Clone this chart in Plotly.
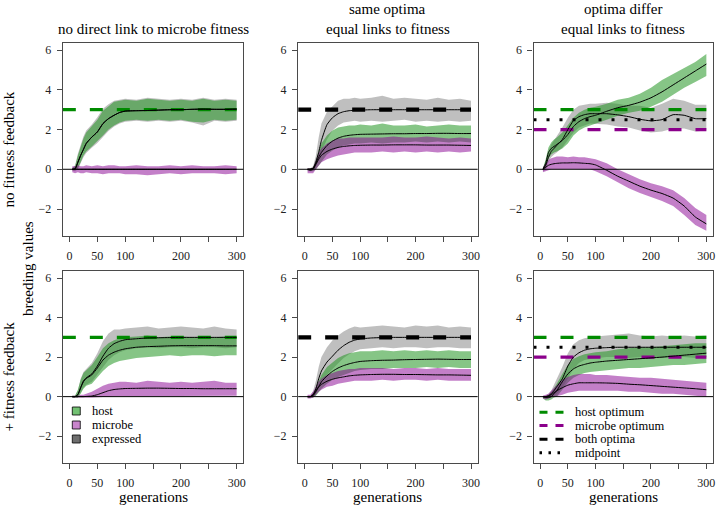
import plotly.graph_objects as go

W, H = 717, 506
FONT = "Liberation Serif, Times New Roman, serif"

# ---------------- data ----------------
GENS = [5, 10, 15, 20, 25, 30, 40, 50, 60, 70, 80, 90, 100, 120, 140, 160, 180, 200, 220, 240, 260, 280, 300]

X_TICKS = [0, 50, 100, 150, 200, 250, 300]
X_TICK_LABELS = ["0", "50", "100", "", "200", "", "300"]
Y_TICKS = [-2, 0, 2, 4, 6]
Y_TICK_LABELS = ["\u22122", "0", "2", "4", "6"]

COL_TITLES = [["no direct link to microbe fitness"],
              ["same optima", "equal links to fitness"],
              ["optima differ", "equal links to fitness"]]
ROW_LABELS = ["no fitness feedback", "+ fitness feedback"]
Y_LABEL = "breeding values"
X_LABEL = "generations"

HOST_OPT = 3.0
MICROBE_OPT = 2.0
BOTH_OPT = 3.0
MIDPOINT = 2.5

# panel 1: no direct link, no feedback
p1_host_mean = [0, 0.02, 0.35, 0.7, 1.0, 1.3, 1.62, 1.88, 2.3, 2.55, 2.72, 2.86, 2.93, 2.95, 2.96, 2.98, 3.0, 3.0, 3.02, 3.03, 3.02, 3.02, 3.03]
p1_host_hi = [0.05, 0.15, 0.7, 1.15, 1.55, 1.85, 2.15, 2.5, 2.95, 3.2, 3.4, 3.45, 3.5, 3.45, 3.55, 3.5, 3.45, 3.5, 3.45, 3.55, 3.45, 3.5, 3.45]
p1_host_lo = [-0.05, -0.05, 0.05, 0.35, 0.7, 0.9, 1.15, 1.4, 1.7, 2.0, 2.2, 2.35, 2.45, 2.5, 2.45, 2.5, 2.45, 2.5, 2.4, 2.35, 2.5, 2.45, 2.5]
p1_microbe_mean = [0] * 23
p1_microbe_hi = [0.15, 0.15, 0.2, 0.15, 0.15, 0.2, 0.15, 0.2, 0.15, 0.2, 0.2, 0.15, 0.15, 0.2, 0.15, 0.15, 0.2, 0.15, 0.2, 0.15, 0.15, 0.2, 0.15]
p1_microbe_lo = [-0.15, -0.2, -0.15, -0.2, -0.2, -0.15, -0.2, -0.2, -0.25, -0.2, -0.2, -0.2, -0.25, -0.25, -0.3, -0.25, -0.2, -0.25, -0.2, -0.2, -0.2, -0.25, -0.2]
p1_expr_mean = [0, 0.02, 0.35, 0.7, 1.0, 1.3, 1.62, 1.88, 2.3, 2.55, 2.72, 2.86, 2.93, 2.95, 2.96, 2.98, 3.0, 3.0, 3.02, 3.03, 3.02, 3.02, 3.03]
p1_expr_hi = [0.08, 0.2, 0.78, 1.25, 1.65, 1.95, 2.25, 2.62, 3.05, 3.28, 3.45, 3.5, 3.55, 3.5, 3.6, 3.55, 3.5, 3.55, 3.5, 3.6, 3.5, 3.55, 3.5]
p1_expr_lo = [-0.08, -0.1, 0.0, 0.28, 0.6, 0.82, 1.08, 1.32, 1.62, 1.93, 2.15, 2.3, 2.4, 2.45, 2.4, 2.45, 2.4, 2.45, 2.35, 2.2, 2.45, 2.4, 2.45]

# panel 2: same optima, no feedback
p2_host_mean = [0, 0, 0.05, 0.3, 0.6, 0.85, 1.2, 1.42, 1.57, 1.66, 1.71, 1.74, 1.76, 1.77, 1.78, 1.79, 1.79, 1.8, 1.8, 1.81, 1.81, 1.8, 1.8]
p2_host_hi = [0.02, 0.02, 0.1, 0.5, 0.95, 1.3, 1.7, 1.95, 2.1, 2.15, 2.2, 2.2, 2.25, 2.2, 2.3, 2.2, 2.2, 2.25, 2.15, 2.2, 2.25, 2.2, 2.2]
p2_host_lo = [-0.05, -0.1, -0.1, 0.0, 0.2, 0.4, 0.75, 0.95, 1.1, 1.2, 1.25, 1.3, 1.3, 1.35, 1.3, 1.35, 1.35, 1.4, 1.35, 1.4, 1.35, 1.4, 1.35]
p2_microbe_mean = [0, -0.05, 0.0, 0.25, 0.5, 0.7, 0.9, 1.02, 1.1, 1.15, 1.18, 1.2, 1.21, 1.22, 1.22, 1.23, 1.23, 1.23, 1.22, 1.22, 1.22, 1.21, 1.2]
p2_microbe_hi = [0.05, 0.02, 0.1, 0.5, 0.85, 1.05, 1.3, 1.45, 1.55, 1.55, 1.6, 1.6, 1.6, 1.62, 1.6, 1.65, 1.6, 1.6, 1.65, 1.6, 1.55, 1.6, 1.55]
p2_microbe_lo = [-0.2, -0.2, -0.2, 0.0, 0.2, 0.35, 0.5, 0.6, 0.7, 0.75, 0.8, 0.85, 0.85, 0.85, 0.9, 0.85, 0.9, 0.85, 0.9, 0.85, 0.9, 0.85, 0.9]
p2_expr_mean = [0, 0.02, 0.05, 0.35, 0.85, 1.45, 2.25, 2.6, 2.8, 2.9, 2.95, 2.97, 2.98, 3.0, 3.0, 3.0, 3.0, 3.0, 3.0, 3.0, 3.0, 3.0, 3.0]
p2_expr_hi = [0.05, 0.05, 0.15, 0.7, 1.6, 2.3, 2.9, 3.2, 3.45, 3.55, 3.55, 3.6, 3.55, 3.6, 3.7, 3.55, 3.6, 3.55, 3.5, 3.6, 3.5, 3.55, 3.45]
p2_expr_lo = [-0.1, -0.1, -0.05, 0.1, 0.5, 0.9, 1.5, 1.95, 2.2, 2.35, 2.4, 2.45, 2.4, 2.45, 2.4, 2.45, 2.5, 2.4, 2.45, 2.4, 2.45, 2.4, 2.45]

# panel 3: optima differ, no feedback
p3_host_mean = [0, 0.3, 0.85, 1.05, 1.15, 1.25, 1.45, 1.75, 2.15, 2.4, 2.55, 2.65, 2.72, 2.92, 3.1, 3.22, 3.38, 3.6, 3.9, 4.25, 4.6, 4.95, 5.3]
p3_host_hi = [0.05, 0.5, 1.1, 1.35, 1.5, 1.6, 1.85, 2.2, 2.6, 2.85, 3.0, 3.1, 3.15, 3.3, 3.5, 3.6, 3.8, 4.1, 4.5, 4.8, 5.1, 5.4, 5.8]
p3_host_lo = [-0.05, 0.05, 0.55, 0.75, 0.85, 0.9, 1.05, 1.3, 1.7, 1.95, 2.1, 2.2, 2.3, 2.5, 2.7, 2.85, 2.95, 3.15, 3.4, 3.75, 4.1, 4.4, 4.7]
p3_microbe_mean = [0, 0.1, 0.2, 0.25, 0.28, 0.3, 0.32, 0.32, 0.33, 0.32, 0.3, 0.28, 0.22, -0.05, -0.35, -0.6, -0.85, -1.05, -1.22, -1.45, -1.85, -2.4, -2.75]
p3_microbe_hi = [0.1, 0.3, 0.45, 0.55, 0.6, 0.65, 0.65, 0.6, 0.65, 0.6, 0.6, 0.55, 0.5, 0.3, 0.0, -0.25, -0.5, -0.7, -0.85, -1.05, -1.45, -1.95, -2.3]
p3_microbe_lo = [-0.15, -0.1, -0.05, 0.0, 0.0, 0.0, 0.0, 0.02, 0.02, 0.02, 0.0, 0.0, -0.1, -0.35, -0.65, -0.95, -1.2, -1.4, -1.6, -1.85, -2.3, -2.8, -3.1]
p3_expr_mean = [0, 0.2, 0.6, 0.9, 1.05, 1.2, 1.5, 2.0, 2.45, 2.65, 2.75, 2.8, 2.8, 2.8, 2.74, 2.65, 2.52, 2.44, 2.5, 2.75, 2.72, 2.55, 2.55]
p3_expr_hi = [0.05, 0.4, 0.9, 1.25, 1.45, 1.65, 2.1, 2.6, 3.0, 3.2, 3.25, 3.3, 3.3, 3.35, 3.3, 3.2, 3.2, 3.1, 3.3, 3.55, 3.45, 3.25, 3.25]
p3_expr_lo = [-0.1, -0.05, 0.35, 0.6, 0.75, 0.85, 1.1, 1.5, 1.85, 2.1, 2.2, 2.3, 2.3, 2.25, 2.15, 2.1, 1.95, 1.85, 1.9, 2.05, 2.05, 1.9, 1.95]

# panel 4: no direct link, + feedback
p4_host_mean = [0, 0, 0.1, 0.45, 0.75, 0.92, 1.1, 1.45, 1.85, 2.1, 2.25, 2.35, 2.42, 2.5, 2.53, 2.55, 2.57, 2.58, 2.58, 2.58, 2.58, 2.57, 2.57]
p4_host_hi = [0.05, 0.05, 0.35, 0.85, 1.2, 1.35, 1.6, 2.0, 2.45, 2.7, 2.85, 2.95, 3.0, 3.05, 3.1, 3.0, 3.05, 3.05, 3.0, 3.05, 3.0, 3.05, 3.0]
p4_host_lo = [-0.05, -0.05, -0.05, 0.15, 0.4, 0.55, 0.65, 0.95, 1.3, 1.55, 1.7, 1.8, 1.85, 1.95, 2.0, 2.05, 2.1, 2.05, 2.1, 2.1, 2.05, 2.1, 2.1]
p4_microbe_mean = [0, 0, 0, 0, 0, 0.01, 0.03, 0.1, 0.2, 0.3, 0.36, 0.39, 0.41, 0.42, 0.43, 0.43, 0.42, 0.41, 0.41, 0.4, 0.4, 0.4, 0.4]
p4_microbe_hi = [0.05, 0.05, 0.05, 0.1, 0.1, 0.15, 0.25, 0.4, 0.55, 0.65, 0.7, 0.75, 0.75, 0.7, 0.8, 0.75, 0.7, 0.75, 0.7, 0.75, 0.8, 0.7, 0.7]
p4_microbe_lo = [-0.05, -0.05, -0.05, -0.05, -0.05, -0.05, -0.05, -0.05, -0.02, 0.0, 0.02, 0.03, 0.05, 0.05, 0.05, 0.05, 0.03, 0.05, 0.05, 0.05, 0.03, 0.05, 0.05]
p4_expr_mean = [0, 0, 0.1, 0.45, 0.8, 0.95, 1.15, 1.55, 2.05, 2.45, 2.68, 2.8, 2.88, 2.93, 2.97, 2.98, 2.99, 3.0, 3.0, 3.0, 3.0, 3.0, 3.0]
p4_expr_hi = [0.05, 0.05, 0.3, 0.9, 1.25, 1.4, 1.7, 2.2, 2.8, 3.2, 3.4, 3.4, 3.45, 3.5, 3.55, 3.45, 3.5, 3.55, 3.5, 3.45, 3.55, 3.45, 3.4]
p4_expr_lo = [-0.05, -0.05, -0.05, 0.2, 0.45, 0.6, 0.75, 1.1, 1.5, 1.85, 2.1, 2.25, 2.35, 2.45, 2.5, 2.45, 2.5, 2.5, 2.45, 2.5, 2.5, 2.45, 2.5]

# panel 5: same optima, + feedback
p5_host_mean = [0, 0, 0.05, 0.25, 0.5, 0.75, 1.05, 1.28, 1.45, 1.57, 1.66, 1.73, 1.78, 1.82, 1.84, 1.85, 1.87, 1.88, 1.89, 1.9, 1.89, 1.88, 1.88]
p5_host_hi = [0.02, 0.02, 0.15, 0.5, 0.85, 1.1, 1.5, 1.75, 1.95, 2.1, 2.2, 2.25, 2.3, 2.3, 2.35, 2.3, 2.35, 2.3, 2.35, 2.3, 2.35, 2.3, 2.3]
p5_host_lo = [-0.05, -0.05, -0.05, 0.05, 0.2, 0.4, 0.65, 0.85, 1.0, 1.1, 1.2, 1.3, 1.35, 1.4, 1.4, 1.45, 1.45, 1.45, 1.5, 1.45, 1.5, 1.45, 1.45]
p5_microbe_mean = [0, 0, 0.1, 0.3, 0.5, 0.62, 0.78, 0.88, 0.95, 1.0, 1.05, 1.08, 1.1, 1.12, 1.13, 1.13, 1.12, 1.12, 1.11, 1.1, 1.1, 1.09, 1.08]
p5_microbe_hi = [0.1, 0.1, 0.25, 0.5, 0.75, 0.9, 1.1, 1.2, 1.3, 1.35, 1.4, 1.4, 1.45, 1.45, 1.45, 1.4, 1.45, 1.45, 1.4, 1.45, 1.4, 1.4, 1.4]
p5_microbe_lo = [-0.1, -0.1, -0.05, 0.1, 0.25, 0.35, 0.5, 0.55, 0.65, 0.7, 0.75, 0.8, 0.8, 0.8, 0.85, 0.8, 0.85, 0.85, 0.8, 0.85, 0.8, 0.8, 0.8]
p5_expr_mean = [0, 0, 0.1, 0.4, 0.9, 1.3, 1.75, 2.05, 2.35, 2.58, 2.75, 2.86, 2.92, 2.97, 2.99, 3.0, 3.0, 3.0, 3.0, 3.0, 3.0, 3.0, 3.0]
p5_expr_hi = [0.05, 0.05, 0.3, 0.8, 1.5, 2.0, 2.5, 2.85, 3.1, 3.3, 3.45, 3.55, 3.5, 3.55, 3.6, 3.55, 3.5, 3.6, 3.55, 3.6, 3.5, 3.55, 3.5]
p5_expr_lo = [-0.05, -0.05, -0.05, 0.1, 0.4, 0.7, 1.1, 1.4, 1.7, 1.95, 2.15, 2.3, 2.4, 2.45, 2.5, 2.45, 2.5, 2.5, 2.45, 2.5, 2.5, 2.45, 2.45]

# panel 6: optima differ, + feedback
p6_host_mean = [0, -0.05, -0.05, 0.0, 0.15, 0.3, 0.75, 1.15, 1.4, 1.55, 1.63, 1.7, 1.74, 1.8, 1.84, 1.88, 1.92, 1.96, 2.0, 2.05, 2.1, 2.15, 2.2]
p6_host_hi = [0.02, 0.02, 0.05, 0.2, 0.4, 0.65, 1.15, 1.6, 1.9, 2.05, 2.15, 2.2, 2.25, 2.3, 2.4, 2.45, 2.5, 2.5, 2.55, 2.6, 2.65, 2.7, 2.7]
p6_host_lo = [-0.1, -0.2, -0.2, -0.15, -0.05, 0.0, 0.35, 0.7, 0.95, 1.1, 1.2, 1.25, 1.3, 1.35, 1.4, 1.45, 1.45, 1.5, 1.55, 1.6, 1.6, 1.65, 1.7]
p6_microbe_mean = [0, 0.0, 0.02, 0.1, 0.2, 0.3, 0.45, 0.58, 0.65, 0.7, 0.7, 0.7, 0.7, 0.69, 0.67, 0.63, 0.6, 0.56, 0.52, 0.48, 0.44, 0.4, 0.35]
p6_microbe_hi = [0.05, 0.1, 0.15, 0.3, 0.45, 0.6, 0.85, 1.0, 1.1, 1.15, 1.15, 1.15, 1.1, 1.1, 1.05, 1.0, 0.95, 0.95, 0.9, 0.85, 0.8, 0.75, 0.7]
p6_microbe_lo = [-0.1, -0.15, -0.1, -0.05, 0.0, 0.05, 0.1, 0.2, 0.25, 0.3, 0.3, 0.3, 0.3, 0.3, 0.3, 0.25, 0.25, 0.2, 0.15, 0.15, 0.1, 0.05, 0.0]
p6_expr_mean = [0, 0, 0.05, 0.15, 0.3, 0.5, 0.9, 1.55, 2.0, 2.22, 2.35, 2.42, 2.45, 2.48, 2.5, 2.5, 2.5, 2.5, 2.5, 2.5, 2.5, 2.5, 2.5]
p6_expr_hi = [0.05, 0.05, 0.15, 0.3, 0.6, 0.9, 1.5, 2.2, 2.65, 2.85, 2.95, 3.0, 3.05, 3.1, 3.15, 3.2, 3.1, 3.05, 3.1, 3.05, 3.1, 3.05, 3.1]
p6_expr_lo = [-0.05, -0.05, -0.05, 0.0, 0.05, 0.15, 0.45, 0.9, 1.4, 1.7, 1.85, 1.9, 1.95, 2.0, 2.0, 1.95, 2.0, 2.0, 1.95, 2.0, 2.0, 1.95, 2.0]

PANELS = [
    dict(expr=(p1_expr_mean, p1_expr_lo, p1_expr_hi), host=(p1_host_mean, p1_host_lo, p1_host_hi),
         microbe=(p1_microbe_mean, p1_microbe_lo, p1_microbe_hi), refs=["host"]),
    dict(expr=(p2_expr_mean, p2_expr_lo, p2_expr_hi), host=(p2_host_mean, p2_host_lo, p2_host_hi),
         microbe=(p2_microbe_mean, p2_microbe_lo, p2_microbe_hi), refs=["both"]),
    dict(expr=(p3_expr_mean, p3_expr_lo, p3_expr_hi), host=(p3_host_mean, p3_host_lo, p3_host_hi),
         microbe=(p3_microbe_mean, p3_microbe_lo, p3_microbe_hi), refs=["host", "microbe", "mid"]),
    dict(expr=(p4_expr_mean, p4_expr_lo, p4_expr_hi), host=(p4_host_mean, p4_host_lo, p4_host_hi),
         microbe=(p4_microbe_mean, p4_microbe_lo, p4_microbe_hi), refs=["host"]),
    dict(expr=(p5_expr_mean, p5_expr_lo, p5_expr_hi), host=(p5_host_mean, p5_host_lo, p5_host_hi),
         microbe=(p5_microbe_mean, p5_microbe_lo, p5_microbe_hi), refs=["both"]),
    dict(expr=(p6_expr_mean, p6_expr_lo, p6_expr_hi), host=(p6_host_mean, p6_host_lo, p6_host_hi),
         microbe=(p6_microbe_mean, p6_microbe_lo, p6_microbe_hi), refs=["host", "microbe", "mid"]),
]

# ---------------- styles ----------------
FILL = dict(expr="rgba(0,0,0,0.25)", host="rgba(34,150,34,0.55)", microbe="rgba(135,0,145,0.5)")
LEG_FILL = dict(host="#72c172", microbe="#c985cc", expr="#6e6e6e")
REF_STYLE = dict(
    host=(HOST_OPT, dict(color="#008b00", width=3.2, dash="13px,14px")),
    microbe=(MICROBE_OPT, dict(color="#8b008b", width=3.2, dash="13px,14px")),
    both=(BOTH_OPT, dict(color="black", width=4.2, dash="13px,14px")),
    mid=(MIDPOINT, dict(color="black", width=3, dash="3px,10px")),
)
AXC = "#4a4a4a"
X_RANGE = [-12, 312]
Y_RANGE = [-3.36, 6.36]
COL_PX = [(63, 244), (299, 479), (535, 715)]
ROW_PX = [(43, 236), (271, 463)]


def px(x):
    return x / W


def py(y):
    return 1 - y / H


fig = go.Figure()
shapes = []
annotations = []

for i, p in enumerate(PANELS):
    r, c = divmod(i, 3)
    sfx = "" if i == 0 else str(i + 1)
    xa, ya = "x" + sfx, "y" + sfx
    fig.update_layout(**{
        "xaxis" + sfx: dict(domain=[px(COL_PX[c][0]), px(COL_PX[c][1])], anchor=ya, range=X_RANGE,
                            tickmode="array", tickvals=X_TICKS, ticktext=X_TICK_LABELS,
                            ticks="outside", ticklen=5, tickwidth=1.2, tickcolor=AXC,
                            showline=True, mirror=True, linecolor=AXC, linewidth=1.3,
                            showgrid=False, zeroline=False, ticklabelstandoff=3,
                            tickfont=dict(family=FONT, size=12, color="#222")),
        "yaxis" + sfx: dict(domain=[py(ROW_PX[r][1]), py(ROW_PX[r][0])], anchor=xa, range=Y_RANGE,
                            tickmode="array", tickvals=Y_TICKS, ticktext=Y_TICK_LABELS,
                            ticks="outside", ticklen=5, tickwidth=1.2, tickcolor=AXC,
                            showline=True, mirror=True, linecolor=AXC, linewidth=1.3,
                            showgrid=False, zeroline=False, ticklabelstandoff=3,
                            tickfont=dict(family=FONT, size=12, color="#222")),
    })
    # bands: expressed, host, microbe
    for key in ["expr", "host", "microbe"]:
        mean, lo, hi = p[key]
        fig.add_trace(go.Scatter(x=GENS + GENS[::-1], y=hi + lo[::-1], fill="toself",
                                 fillcolor=FILL[key], line=dict(width=0), mode="lines",
                                 hoverinfo="skip", showlegend=False, xaxis=xa, yaxis=ya))
    # reference lines
    for ref in p["refs"]:
        val, style = REF_STYLE[ref]
        fig.add_trace(go.Scatter(x=[X_RANGE[0], GENS[-1]], y=[val, val], mode="lines", line=style,
                                 hoverinfo="skip", showlegend=False, xaxis=xa, yaxis=ya))
    # mean lines
    for key in ["expr", "host", "microbe"]:
        mean, lo, hi = p[key]
        fig.add_trace(go.Scatter(x=GENS, y=mean, mode="lines",
                                 line=dict(color="black", width=1, shape="spline", smoothing=0.5),
                                 hoverinfo="skip", showlegend=False, xaxis=xa, yaxis=ya))
    # zero line
    shapes.append(dict(type="line", xref=xa + " domain", yref=ya, x0=0, x1=1, y0=0, y1=0,
                       line=dict(color="black", width=1)))

# column titles
for c, lines in enumerate(COL_TITLES):
    cx = (COL_PX[c][0] + COL_PX[c][1]) / 2
    ys = [29] if len(lines) == 1 else [8.5, 29]
    for txt, yy in zip(lines, ys):
        annotations.append(dict(text=txt, x=px(cx), y=py(yy), xref="paper", yref="paper",
                                xanchor="center", yanchor="middle", showarrow=False,
                                font=dict(family=FONT, size=15, color="black")))
# row labels
for txt, yy in zip(ROW_LABELS, [149, 376]):
    annotations.append(dict(text=txt, x=px(9.5), y=py(yy), xref="paper", yref="paper", textangle=-90,
                            xanchor="center", yanchor="middle", showarrow=False,
                            font=dict(family=FONT, size=15, color="black")))
annotations.append(dict(text=Y_LABEL, x=px(28), y=py(268), xref="paper", yref="paper", textangle=-90,
                        xanchor="center", yanchor="middle", showarrow=False,
                        font=dict(family=FONT, size=15, color="black")))
for c in range(3):
    cx = (COL_PX[c][0] + COL_PX[c][1]) / 2
    annotations.append(dict(text=X_LABEL, x=px(cx), y=py(497), xref="paper", yref="paper",
                            xanchor="center", yanchor="middle", showarrow=False,
                            font=dict(family=FONT, size=15, color="black")))

# fill legend (bottom-left panel)
for (key, label), yy in zip([("host", "host"), ("microbe", "microbe"), ("expr", "expressed")], [411, 425, 439]):
    shapes.append(dict(type="rect", xref="paper", yref="paper", x0=px(72.5), x1=px(80.5),
                       y0=py(yy + 4), y1=py(yy - 4), fillcolor=LEG_FILL[key],
                       line=dict(color="black", width=0.8)))
    annotations.append(dict(text=label, x=px(90), y=py(yy), xref="paper", yref="paper",
                            xanchor="left", yanchor="middle", showarrow=False,
                            font=dict(family=FONT, size=12.5, color="black")))

# line legend (bottom-right panel)
LINE_LEG = [("host", "host optimum", dict(color="#008b00", width=3, dash="8px,8px")),
            ("microbe", "microbe optimum", dict(color="#8b008b", width=3, dash="8px,8px")),
            ("both", "both optima", dict(color="black", width=3, dash="8px,8px")),
            ("mid", "midpoint", dict(color="black", width=3, dash="2.5px,6.5px"))]
for (key, label, style), yy in zip(LINE_LEG, [412.3, 425.5, 439.3, 452.7]):
    shapes.append(dict(type="line", xref="paper", yref="paper", x0=px(541), x1=px(566),
                       y0=py(yy), y1=py(yy), line=style))
    annotations.append(dict(text=label, x=px(575), y=py(yy), xref="paper", yref="paper",
                            xanchor="left", yanchor="middle", showarrow=False,
                            font=dict(family=FONT, size=12.5, color="black")))

fig.update_layout(width=W, height=H, margin=dict(l=0, r=0, t=0, b=0),
                  paper_bgcolor="white", plot_bgcolor="white", showlegend=False,
                  shapes=shapes, annotations=annotations,
                  font=dict(family=FONT))
fig.write_html("out.html",
               config={"displayModeBar": False},
               post_script="document.body.style.margin='0';document.body.style.padding='0';"
                           "document.body.style.overflow='hidden';")
